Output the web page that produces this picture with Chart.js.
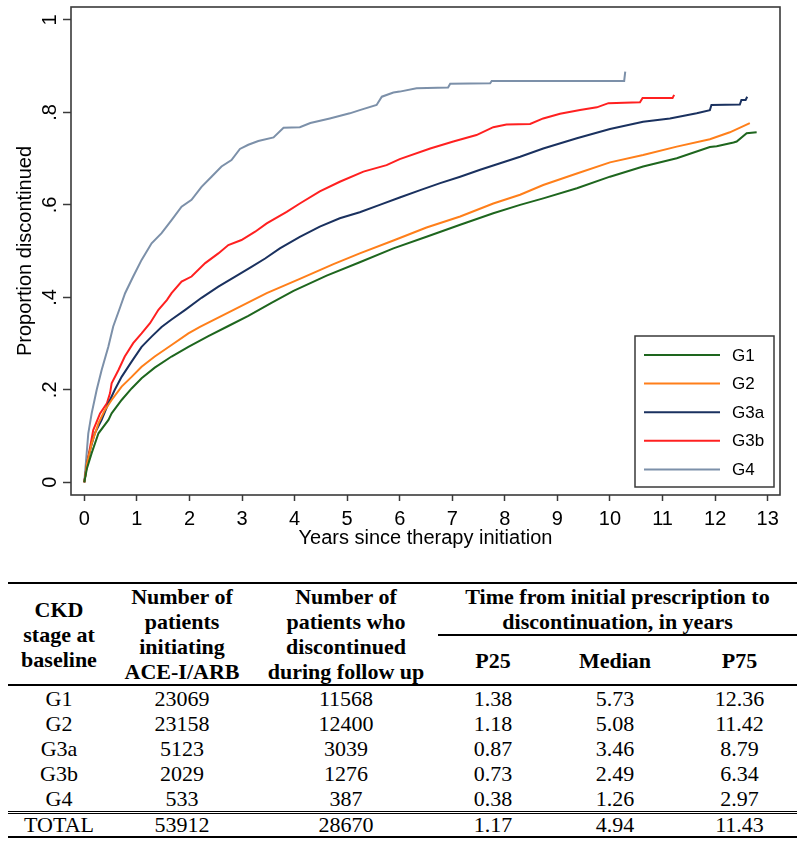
<!DOCTYPE html>
<html>
<head>
<meta charset="utf-8">
<script src="https://cdn.jsdelivr.net/npm/chart.js@4.4.1/dist/chart.umd.min.js"></script>
<style>
html,body{margin:0;padding:0;background:#fff;width:800px;height:846px;overflow:hidden;position:relative}
#chartBox{position:absolute;left:0;top:0;width:800px;height:560px}
#tbl{position:absolute;left:8px;top:582px;width:789px;border-collapse:separate;border-spacing:0;table-layout:fixed;
  font-family:'Liberation Serif','Times New Roman',serif;font-size:22px;color:#000}
#tbl th,#tbl td{padding:0;text-align:center;white-space:nowrap;line-height:25px;vertical-align:middle}
#tbl thead tr.r1 th{border-top:2px solid #000}
#tbl th.span3{border-bottom:2px solid #000;height:50px}
#tbl th.rs{border-bottom:2px solid #000;height:100px}
#tbl thead tr.r2 th{border-bottom:2px solid #000;height:48px}
#tbl tbody td{height:25px}
#tbl tbody tr.total td{border-top:3px double #000;border-bottom:2px solid #000;height:22px;line-height:22px}
</style>
</head>
<body>
<div id="chartBox"><canvas id="c" width="800" height="560"></canvas></div>
<table id="tbl"></table>
<script>
// ---------- chart data ----------
const seriesNames = ['G1', 'G2', 'G3a', 'G3b', 'G4'];
const seriesColors = ['#1e661e', '#ff7f1a', '#1a315f', '#ff2020', '#7c90a9'];

const g1Years = [0, 0.05, 0.14, 0.27, 0.46, 0.52, 0.71, 0.90, 1.09, 1.34, 1.66, 1.98, 2.36, 2.74, 3.12, 3.56, 3.98, 4.61, 5.24, 5.88, 6.51, 7.15, 7.78, 8.29, 8.73, 9.37, 10.0, 10.63, 11.27, 11.90, 12.03, 12.35, 12.41, 12.60, 12.79];
const g1Prop  = [0, 0.03, 0.063, 0.106, 0.135, 0.149, 0.178, 0.203, 0.225, 0.248, 0.272, 0.293, 0.316, 0.338, 0.360, 0.388, 0.414, 0.447, 0.476, 0.506, 0.531, 0.557, 0.582, 0.600, 0.614, 0.636, 0.661, 0.683, 0.701, 0.725, 0.727, 0.735, 0.737, 0.755, 0.757];

const g2Years = [0, 0.05, 0.14, 0.27, 0.39, 0.52, 0.71, 0.90, 1.09, 1.34, 1.66, 1.98, 2.20, 2.84, 3.47, 4.10, 4.74, 5.24, 5.88, 6.51, 7.15, 7.78, 8.29, 8.73, 9.37, 10.0, 10.63, 11.27, 11.90, 12.28, 12.66];
const g2Prop  = [0, 0.04, 0.084, 0.128, 0.156, 0.178, 0.207, 0.228, 0.25, 0.272, 0.297, 0.322, 0.336, 0.373, 0.409, 0.440, 0.472, 0.495, 0.523, 0.551, 0.575, 0.603, 0.622, 0.643, 0.668, 0.692, 0.708, 0.726, 0.742, 0.757, 0.777];

const g3aYears = [0, 0.05, 0.11, 0.20, 0.33, 0.46, 0.58, 0.71, 0.90, 1.09, 1.28, 1.47, 1.66, 1.92, 2.23, 2.55, 2.87, 3.18, 3.44, 3.72, 4.10, 4.48, 4.86, 5.24, 5.62, 6.0, 6.39, 6.77, 7.15, 7.53, 7.91, 8.29, 8.73, 9.37, 10.0, 10.63, 11.14, 11.65, 11.90, 11.93, 12.47, 12.50, 12.58, 12.61];
const g3aProp  = [0, 0.04, 0.07, 0.106, 0.135, 0.171, 0.2, 0.228, 0.261, 0.293, 0.315, 0.336, 0.352, 0.373, 0.399, 0.423, 0.445, 0.466, 0.484, 0.506, 0.531, 0.553, 0.571, 0.584, 0.600, 0.616, 0.632, 0.647, 0.661, 0.676, 0.690, 0.704, 0.722, 0.744, 0.764, 0.780, 0.787, 0.798, 0.805, 0.816, 0.817, 0.827, 0.827, 0.834];

const g3bYears = [0, 0.076, 0.17, 0.30, 0.43, 0.49, 0.52, 0.65, 0.77, 0.93, 1.09, 1.25, 1.41, 1.57, 1.66, 1.85, 2.04, 2.30, 2.55, 2.74, 2.99, 3.25, 3.47, 3.85, 4.10, 4.48, 4.86, 5.31, 5.75, 6.0, 6.58, 7.02, 7.46, 7.78, 8.03, 8.48, 8.73, 9.05, 9.43, 9.75, 9.97, 10.57, 10.62, 11.19, 11.22];
const g3bProp  = [0, 0.055, 0.113, 0.149, 0.171, 0.193, 0.214, 0.243, 0.272, 0.301, 0.322, 0.344, 0.373, 0.394, 0.409, 0.434, 0.445, 0.474, 0.495, 0.513, 0.524, 0.542, 0.560, 0.585, 0.603, 0.629, 0.650, 0.672, 0.686, 0.699, 0.722, 0.737, 0.751, 0.768, 0.774, 0.775, 0.787, 0.797, 0.805, 0.811, 0.820, 0.822, 0.831, 0.831, 0.838];

const g4Years = [0, 0.076, 0.14, 0.236, 0.33, 0.457, 0.55, 0.68, 0.776, 0.93, 1.09, 1.28, 1.47, 1.66, 1.85, 2.04, 2.23, 2.42, 2.61, 2.80, 2.96, 3.12, 3.31, 3.60, 3.79, 4.10, 4.30, 4.67, 5.05, 5.24, 5.56, 5.66, 5.88, 6.0, 6.32, 6.92, 6.96, 7.72, 7.75, 10.27, 10.29];
const g4Prop  = [0, 0.106, 0.149, 0.2, 0.243, 0.293, 0.337, 0.378, 0.409, 0.445, 0.481, 0.517, 0.539, 0.567, 0.596, 0.611, 0.639, 0.661, 0.683, 0.697, 0.721, 0.730, 0.738, 0.746, 0.767, 0.768, 0.777, 0.787, 0.798, 0.805, 0.816, 0.834, 0.843, 0.845, 0.852, 0.854, 0.862, 0.863, 0.868, 0.868, 0.888];

const xTickValues = [0, 1, 2, 3, 4, 5, 6, 7, 8, 9, 10, 11, 12, 13];
const yTickValues = [0, 0.2, 0.4, 0.6, 0.8, 1];
const yTickLabels = ['0', '.2', '.4', '.6', '.8', '1'];
const xTitle = 'Years since therapy initiation';
const yTitle = 'Proportion discontinued';

// ---------- table data ----------
const tblStage        = ['G1', 'G2', 'G3a', 'G3b', 'G4', 'TOTAL'];
const tblInitiating   = ['23069', '23158', '5123', '2029', '533', '53912'];
const tblDiscontinued = ['11568', '12400', '3039', '1276', '387', '28670'];
const tblP25          = ['1.38', '1.18', '0.87', '0.73', '0.38', '1.17'];
const tblMedian       = ['5.73', '5.08', '3.46', '2.49', '1.26', '4.94'];
const tblP75          = ['12.36', '11.42', '8.79', '6.34', '2.97', '11.43'];

// ---------- chart ----------
const allYears = [g1Years, g2Years, g3aYears, g3bYears, g4Years];
const allProps = [g1Prop, g2Prop, g3aProp, g3bProp, g4Prop];

const datasets = seriesNames.map((name, k) => ({
  label: name,
  data: allYears[k].map((t, i) => ({ x: t, y: allProps[k][i] })),
  borderColor: seriesColors[k],
  backgroundColor: seriesColors[k],
  borderWidth: 2,
  pointRadius: 0,
  tension: 0,
  fill: false
}));

const FONT = "'Liberation Sans', Arial, sans-serif";

const frame = {
  id: 'frame',
  beforeDatasetsDraw(chart) {
    const { ctx, chartArea: a } = chart;
    ctx.save();
    ctx.strokeStyle = '#3a3a3a';
    ctx.lineWidth = 1.6;
    ctx.strokeRect(a.left, a.top, a.right - a.left, a.bottom - a.top);
    ctx.restore();
  }
};

const insideLegend = {
  id: 'insideLegend',
  afterDraw(chart) {
    const { ctx, chartArea: a } = chart;
    const w = 139, h = 151;
    const x0 = a.right - 6 - w, y0 = a.bottom - 8 - h;
    ctx.save();
    ctx.fillStyle = '#fff';
    ctx.fillRect(x0, y0, w, h);
    ctx.strokeStyle = '#3a3a3a';
    ctx.lineWidth = 1.5;
    ctx.strokeRect(x0, y0, w, h);
    ctx.font = '17px ' + FONT;
    ctx.textBaseline = 'middle';
    ctx.textAlign = 'left';
    chart.data.datasets.forEach((ds, i) => {
      const y = y0 + 19 + i * 28.6;
      ctx.strokeStyle = ds.borderColor;
      ctx.lineWidth = 2;
      ctx.beginPath();
      ctx.moveTo(x0 + 9, y);
      ctx.lineTo(x0 + 85, y);
      ctx.stroke();
      ctx.fillStyle = '#000';
      ctx.fillText(ds.label, x0 + 97, y + 1);
    });
    ctx.restore();
  }
};

new Chart(document.getElementById('c'), {
  type: 'line',
  data: { datasets },
  plugins: [frame, insideLegend],
  options: {
    responsive: false,
    animation: false,
    layout: { padding: { top: 7, right: 20, left: 0, bottom: 0 } },
    plugins: { legend: { display: false }, tooltip: { enabled: false } },
    scales: {
      x: {
        type: 'linear',
        min: -0.253,
        max: 13.234,
        afterBuildTicks: s => { s.ticks = xTickValues.map(v => ({ value: v })); },
        afterFit: s => { s.height = 65; s.paddingLeft = 0; s.paddingRight = 0; },
        border: { display: false },
        grid: { display: true, drawOnChartArea: false, drawTicks: true, tickLength: 6, tickWidth: 1.5, tickColor: '#3a3a3a' },
        ticks: { autoSkip: false, maxRotation: 0, minRotation: 0, padding: 6, color: '#000', font: { family: FONT, size: 20 } },
        title: { display: true, text: xTitle, color: '#000', font: { family: FONT, size: 20 }, padding: { top: 0, bottom: 10 } }
      },
      y: {
        type: 'linear',
        min: -0.0275,
        max: 1.028,
        afterBuildTicks: s => { s.ticks = yTickValues.map(v => ({ value: v })); },
        afterFit: s => { s.width = 71; s.paddingTop = 0; s.paddingBottom = 0; },
        border: { display: false },
        grid: { display: true, drawOnChartArea: false, drawTicks: true, tickLength: 8, tickWidth: 1.5, tickColor: '#3a3a3a' },
        ticks: {
          minRotation: 90, maxRotation: 90, crossAlign: 'center', padding: 4, color: '#000',
          font: { family: FONT, size: 20 },
          callback: v => { const i = yTickValues.findIndex(t => Math.abs(t - v) < 1e-9); return i >= 0 ? yTickLabels[i] : ''; }
        },
        title: { display: true, text: yTitle, color: '#000', font: { family: FONT, size: 20 }, padding: { top: 13, bottom: 0 } }
      }
    }
  }
});

// ---------- table ----------
(function buildTable() {
  const t = document.getElementById('tbl');
  let html = '<colgroup><col style="width:102px"><col style="width:144px"><col style="width:184px"><col style="width:110px"><col style="width:134px"><col style="width:115px"></colgroup>';
  html += '<thead><tr class="r1">' +
    '<th class="rs" rowspan="2">CKD<br>stage at<br>baseline</th>' +
    '<th class="rs" rowspan="2">Number of<br>patients<br>initiating<br>ACE-I/ARB</th>' +
    '<th class="rs" rowspan="2">Number of<br>patients who<br>discontinued<br>during follow up</th>' +
    '<th class="span3" colspan="3">Time from initial prescription to<br>discontinuation, in years</th>' +
    '</tr><tr class="r2"><th>P25</th><th>Median</th><th>P75</th></tr></thead><tbody>';
  tblStage.forEach((s, i) => {
    const cls = s === 'TOTAL' ? ' class="total"' : '';
    html += '<tr' + cls + '><td>' + s + '</td><td>' + tblInitiating[i] + '</td><td>' + tblDiscontinued[i] +
      '</td><td>' + tblP25[i] + '</td><td>' + tblMedian[i] + '</td><td>' + tblP75[i] + '</td></tr>';
  });
  html += '</tbody>';
  t.innerHTML = html;
})();
</script>
</body>
</html>
